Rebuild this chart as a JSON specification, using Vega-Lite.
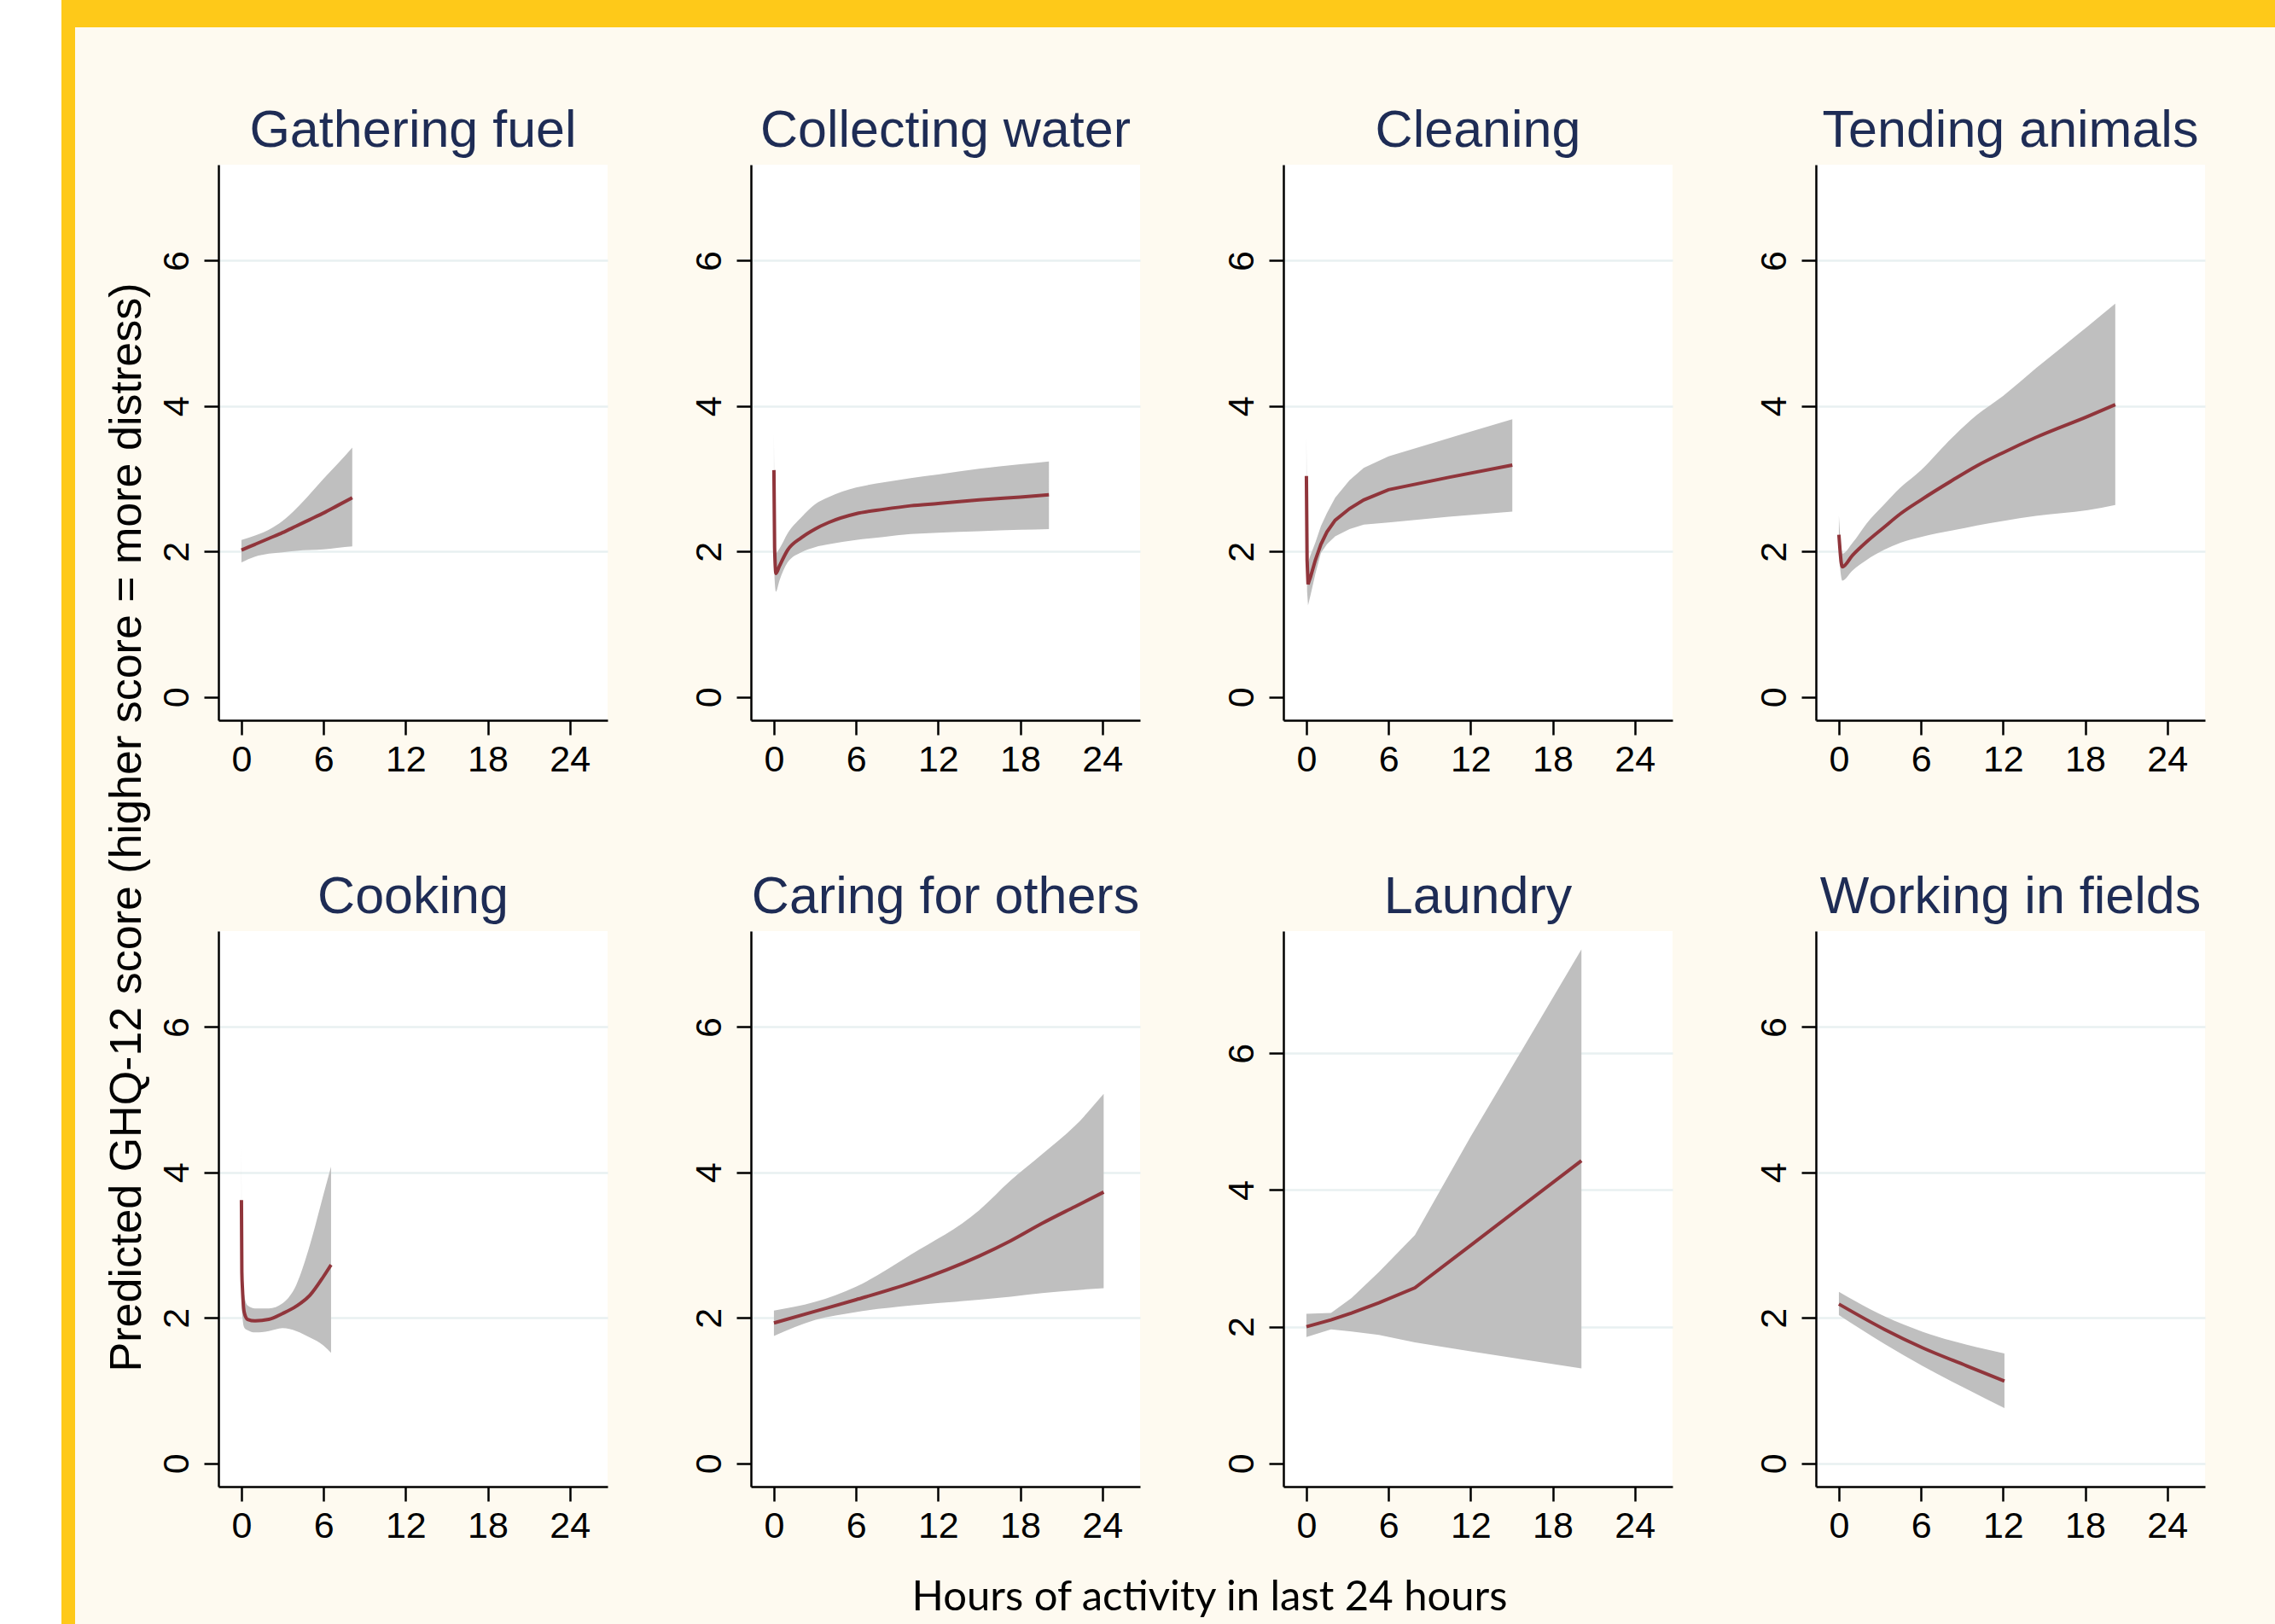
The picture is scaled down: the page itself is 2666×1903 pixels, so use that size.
{
  "$schema": "https://vega.github.io/schema/vega-lite/v6.json",
  "background": "#FEFAF0",
  "padding": 0,
  "bounds": "flush",
  "spacing": 0,
  "config": {
    "view": {"stroke": null},
    "axis": {"labelFont": "Liberation Sans", "labelFontSize": 43, "labelColor": "#000000", "tickColor": "#000000", "tickWidth": 2.5, "tickSize": 17, "domainColor": "#000000", "domainWidth": 2.5, "titleFont": "Liberation Sans", "titleFontWeight": "normal", "titleColor": "#000000", "labelOverlap": false, "labelFlush": false},
    "axisX": {"labelPadding": 8, "labelBaseline": "top", "grid": false},
    "axisY": {"labelAngle": 270, "labelAlign": "center", "labelBaseline": "alphabetic", "labelPadding": 19, "grid": true, "gridColor": "#E8F0F1", "gridWidth": 2.5},
    "title": {"font": "Liberation Sans", "fontSize": 61, "fontWeight": "normal", "color": "#1E2C55", "anchor": "middle", "frame": "group", "offset": 8, "baseline": "alphabetic"}
  },
  "datasets": {
    "curves": [
      {"panel": "Gathering fuel", "hours": 0, "fit": 2.02, "lo": 1.85, "hi": 2.16},
      {"panel": "Gathering fuel", "hours": 1, "fit": 2.10, "lo": 1.93, "hi": 2.22},
      {"panel": "Gathering fuel", "hours": 2, "fit": 2.18, "lo": 1.97, "hi": 2.30},
      {"panel": "Gathering fuel", "hours": 3, "fit": 2.26, "lo": 1.99, "hi": 2.42},
      {"panel": "Gathering fuel", "hours": 4, "fit": 2.35, "lo": 2.01, "hi": 2.59},
      {"panel": "Gathering fuel", "hours": 5, "fit": 2.44, "lo": 2.02, "hi": 2.79},
      {"panel": "Gathering fuel", "hours": 6, "fit": 2.53, "lo": 2.03, "hi": 3.00},
      {"panel": "Gathering fuel", "hours": 7, "fit": 2.63, "lo": 2.05, "hi": 3.20},
      {"panel": "Gathering fuel", "hours": 8.1, "fit": 2.74, "lo": 2.07, "hi": 3.43},

      {"panel": "Collecting water", "hours": 0, "fit": 3.12, "lo": 2.62, "hi": 3.62},
      {"panel": "Collecting water", "hours": 0.05, "fit": 2.06, "lo": 1.62, "hi": 2.45},
      {"panel": "Collecting water", "hours": 0.15, "fit": 1.70, "lo": 1.45, "hi": 1.98},
      {"panel": "Collecting water", "hours": 0.4, "fit": 1.80, "lo": 1.60, "hi": 2.04},
      {"panel": "Collecting water", "hours": 1, "fit": 2.02, "lo": 1.85, "hi": 2.25},
      {"panel": "Collecting water", "hours": 2, "fit": 2.19, "lo": 1.99, "hi": 2.47},
      {"panel": "Collecting water", "hours": 3, "fit": 2.31, "lo": 2.06, "hi": 2.65},
      {"panel": "Collecting water", "hours": 4, "fit": 2.40, "lo": 2.10, "hi": 2.75},
      {"panel": "Collecting water", "hours": 6, "fit": 2.52, "lo": 2.16, "hi": 2.88},
      {"panel": "Collecting water", "hours": 8, "fit": 2.58, "lo": 2.20, "hi": 2.95},
      {"panel": "Collecting water", "hours": 10, "fit": 2.63, "lo": 2.24, "hi": 3.01},
      {"panel": "Collecting water", "hours": 12, "fit": 2.66, "lo": 2.26, "hi": 3.06},
      {"panel": "Collecting water", "hours": 15, "fit": 2.71, "lo": 2.28, "hi": 3.14},
      {"panel": "Collecting water", "hours": 18, "fit": 2.75, "lo": 2.30, "hi": 3.20},
      {"panel": "Collecting water", "hours": 20.1, "fit": 2.78, "lo": 2.31, "hi": 3.24},

      {"panel": "Cleaning", "hours": 0, "fit": 3.04, "lo": 2.50, "hi": 3.58},
      {"panel": "Cleaning", "hours": 0.05, "fit": 1.88, "lo": 1.45, "hi": 2.25},
      {"panel": "Cleaning", "hours": 0.12, "fit": 1.55, "lo": 1.26, "hi": 1.85},
      {"panel": "Cleaning", "hours": 0.3, "fit": 1.65, "lo": 1.40, "hi": 1.95},
      {"panel": "Cleaning", "hours": 0.65, "fit": 1.88, "lo": 1.69, "hi": 2.12},
      {"panel": "Cleaning", "hours": 1.06, "fit": 2.10, "lo": 1.98, "hi": 2.35},
      {"panel": "Cleaning", "hours": 1.5, "fit": 2.27, "lo": 2.10, "hi": 2.53},
      {"panel": "Cleaning", "hours": 2.1, "fit": 2.43, "lo": 2.21, "hi": 2.74},
      {"panel": "Cleaning", "hours": 3.15, "fit": 2.59, "lo": 2.31, "hi": 2.98},
      {"panel": "Cleaning", "hours": 4.19, "fit": 2.71, "lo": 2.37, "hi": 3.15},
      {"panel": "Cleaning", "hours": 6, "fit": 2.85, "lo": 2.40, "hi": 3.31},
      {"panel": "Cleaning", "hours": 10.4, "fit": 3.02, "lo": 2.48, "hi": 3.56},
      {"panel": "Cleaning", "hours": 15.05, "fit": 3.19, "lo": 2.55, "hi": 3.82},

      {"panel": "Tending animals", "hours": 0, "fit": 2.23, "lo": 1.95, "hi": 2.49},
      {"panel": "Tending animals", "hours": 0.25, "fit": 1.79, "lo": 1.60, "hi": 1.97},
      {"panel": "Tending animals", "hours": 1, "fit": 1.95, "lo": 1.74, "hi": 2.12},
      {"panel": "Tending animals", "hours": 2, "fit": 2.13, "lo": 1.88, "hi": 2.38},
      {"panel": "Tending animals", "hours": 3.27, "fit": 2.33, "lo": 2.02, "hi": 2.64},
      {"panel": "Tending animals", "hours": 4.5, "fit": 2.52, "lo": 2.12, "hi": 2.88},
      {"panel": "Tending animals", "hours": 6, "fit": 2.71, "lo": 2.20, "hi": 3.12},
      {"panel": "Tending animals", "hours": 8.3, "fit": 2.98, "lo": 2.29, "hi": 3.57},
      {"panel": "Tending animals", "hours": 10.1, "fit": 3.18, "lo": 2.36, "hi": 3.88},
      {"panel": "Tending animals", "hours": 12, "fit": 3.36, "lo": 2.42, "hi": 4.14},
      {"panel": "Tending animals", "hours": 14.4, "fit": 3.57, "lo": 2.49, "hi": 4.52},
      {"panel": "Tending animals", "hours": 18.2, "fit": 3.86, "lo": 2.57, "hi": 5.10},
      {"panel": "Tending animals", "hours": 20.2, "fit": 4.02, "lo": 2.64, "hi": 5.41},

      {"panel": "Cooking", "hours": 0, "fit": 3.62, "lo": 2.85, "hi": 4.39},
      {"panel": "Cooking", "hours": 0.03, "fit": 2.63, "lo": 2.15, "hi": 3.25},
      {"panel": "Cooking", "hours": 0.08, "fit": 2.38, "lo": 2.00, "hi": 2.85},
      {"panel": "Cooking", "hours": 0.2, "fit": 2.08, "lo": 1.87, "hi": 2.32},
      {"panel": "Cooking", "hours": 0.45, "fit": 1.98, "lo": 1.83, "hi": 2.17},
      {"panel": "Cooking", "hours": 1, "fit": 1.96, "lo": 1.80, "hi": 2.13},
      {"panel": "Cooking", "hours": 2, "fit": 1.98, "lo": 1.82, "hi": 2.13},
      {"panel": "Cooking", "hours": 3, "fit": 2.06, "lo": 1.86, "hi": 2.20},
      {"panel": "Cooking", "hours": 4, "fit": 2.16, "lo": 1.82, "hi": 2.45},
      {"panel": "Cooking", "hours": 5, "fit": 2.31, "lo": 1.73, "hi": 3.00},
      {"panel": "Cooking", "hours": 6, "fit": 2.57, "lo": 1.62, "hi": 3.70},
      {"panel": "Cooking", "hours": 6.55, "fit": 2.73, "lo": 1.52, "hi": 4.08},

      {"panel": "Caring for others", "hours": 0, "fit": 1.93, "lo": 1.75, "hi": 2.10},
      {"panel": "Caring for others", "hours": 3, "fit": 2.09, "lo": 1.97, "hi": 2.22},
      {"panel": "Caring for others", "hours": 6, "fit": 2.25, "lo": 2.08, "hi": 2.43},
      {"panel": "Caring for others", "hours": 10, "fit": 2.48, "lo": 2.17, "hi": 2.87},
      {"panel": "Caring for others", "hours": 15, "fit": 2.85, "lo": 2.25, "hi": 3.48},
      {"panel": "Caring for others", "hours": 17.3, "fit": 3.06, "lo": 2.29, "hi": 3.89},
      {"panel": "Caring for others", "hours": 19.6, "fit": 3.30, "lo": 2.34, "hi": 4.25},
      {"panel": "Caring for others", "hours": 22, "fit": 3.53, "lo": 2.38, "hi": 4.64},
      {"panel": "Caring for others", "hours": 24.1, "fit": 3.73, "lo": 2.41, "hi": 5.08},

      {"panel": "Laundry", "hours": 0, "fit": 2.00, "lo": 1.85, "hi": 2.19},
      {"panel": "Laundry", "hours": 1.8, "fit": 2.10, "lo": 1.96, "hi": 2.20},
      {"panel": "Laundry", "hours": 3.3, "fit": 2.20, "lo": 1.93, "hi": 2.42},
      {"panel": "Laundry", "hours": 5.3, "fit": 2.35, "lo": 1.88, "hi": 2.80},
      {"panel": "Laundry", "hours": 7.93, "fit": 2.57, "lo": 1.77, "hi": 3.34},
      {"panel": "Laundry", "hours": 12, "fit": 3.19, "lo": 1.64, "hi": 4.78},
      {"panel": "Laundry", "hours": 20.1, "fit": 4.43, "lo": 1.39, "hi": 7.52},

      {"panel": "Working in fields", "hours": 0, "fit": 2.19, "lo": 2.04, "hi": 2.36},
      {"panel": "Working in fields", "hours": 3.35, "fit": 1.84, "lo": 1.64, "hi": 2.02},
      {"panel": "Working in fields", "hours": 6.1, "fit": 1.59, "lo": 1.34, "hi": 1.81},
      {"panel": "Working in fields", "hours": 9.35, "fit": 1.34, "lo": 1.02, "hi": 1.63},
      {"panel": "Working in fields", "hours": 12.1, "fit": 1.13, "lo": 0.76, "hi": 1.51}
    ]
  },
  "hconcat": [
    {"width": 72, "height": 1903, "data": {"values": []}, "mark": "rect", "view": {"fill": "#FFFFFF", "stroke": null}},
    {
      "bounds": "flush",
      "spacing": 0,
      "vconcat": [
        {"width": 2594, "height": 32, "data": {"values": []}, "mark": "rect", "view": {"fill": "#FEC919", "stroke": null}},
        {
          "bounds": "flush",
          "spacing": 168,
          "hconcat": [
            {"width": 16, "height": 1871, "data": {"values": []}, "mark": "rect", "view": {"fill": "#FEC919", "stroke": null}},
            {
              "bounds": "flush",
              "spacing": 160,
              "vconcat": [
                {"width": 1, "height": 1, "data": {"values": []}, "mark": "rect"},
                {
                  "bounds": "flush",
                  "columns": 4,
                  "spacing": {"row": 247, "column": 168},
                  "concat": [
                    {
                      "width": 456, "height": 651, "title": "Gathering fuel",
                      "view": {"fill": "#FFFFFF", "stroke": null},
                      "data": {"name": "curves"},
                      "transform": [{"filter": "datum.panel === 'Gathering fuel'"}],
                      "encoding": {"x": {"field": "hours", "type": "quantitative", "scale": {"domain": [-1.68, 26.76], "nice": false, "zero": false}, "axis": {"values": [0, 6, 12, 18, 24], "title": null}}},
                      "layer": [
                        {"mark": {"type": "area", "color": "#BFBFBF", "interpolate": "monotone"},
                         "encoding": {"y": {"field": "lo", "type": "quantitative", "scale": {"domain": [-0.32, 7.32], "nice": false, "zero": false}, "axis": {"values": [0, 2, 4, 6], "title": "Predicted GHQ-12 score (higher score = more distress)", "titleX": -92, "titleY": 776, "titleAngle": 270, "titleAlign": "center", "titleBaseline": "alphabetic", "titleFontSize": 52, "gridOpacity": {"condition": {"test": "datum.value === 0", "value": 0}, "value": 1}}}, "y2": {"field": "hi"}}},
                        {"mark": {"type": "line", "color": "#90353B", "strokeWidth": 4, "interpolate": "monotone"},
                         "encoding": {"y": {"field": "fit", "type": "quantitative", "scale": {"domain": [-0.32, 7.32], "nice": false, "zero": false}, "axis": {"values": [0, 2, 4, 6], "title": "Predicted GHQ-12 score (higher score = more distress)", "titleX": -92, "titleY": 776, "titleAngle": 270, "titleAlign": "center", "titleBaseline": "alphabetic", "titleFontSize": 52, "gridOpacity": {"condition": {"test": "datum.value === 0", "value": 0}, "value": 1}}}}}
                      ]
                    },
                    {
                      "width": 456, "height": 651, "title": "Collecting water",
                      "view": {"fill": "#FFFFFF", "stroke": null},
                      "data": {"name": "curves"},
                      "transform": [{"filter": "datum.panel === 'Collecting water'"}],
                      "encoding": {"x": {"field": "hours", "type": "quantitative", "scale": {"domain": [-1.68, 26.76], "nice": false, "zero": false}, "axis": {"values": [0, 6, 12, 18, 24], "title": null}}},
                      "layer": [
                        {"mark": {"type": "area", "color": "#BFBFBF", "interpolate": "monotone"},
                         "encoding": {"y": {"field": "lo", "type": "quantitative", "scale": {"domain": [-0.32, 7.32], "nice": false, "zero": false}, "axis": {"values": [0, 2, 4, 6], "title": null, "gridOpacity": {"condition": {"test": "datum.value === 0", "value": 0}, "value": 1}}}, "y2": {"field": "hi"}}},
                        {"mark": {"type": "line", "color": "#90353B", "strokeWidth": 4, "interpolate": "monotone"},
                         "encoding": {"y": {"field": "fit", "type": "quantitative", "scale": {"domain": [-0.32, 7.32], "nice": false, "zero": false}, "axis": {"values": [0, 2, 4, 6], "title": null, "gridOpacity": {"condition": {"test": "datum.value === 0", "value": 0}, "value": 1}}}}}
                      ]
                    },
                    {
                      "width": 456, "height": 651, "title": "Cleaning",
                      "view": {"fill": "#FFFFFF", "stroke": null},
                      "data": {"name": "curves"},
                      "transform": [{"filter": "datum.panel === 'Cleaning'"}],
                      "encoding": {"x": {"field": "hours", "type": "quantitative", "scale": {"domain": [-1.68, 26.76], "nice": false, "zero": false}, "axis": {"values": [0, 6, 12, 18, 24], "title": null}}},
                      "layer": [
                        {"mark": {"type": "area", "color": "#BFBFBF", "interpolate": "linear"},
                         "encoding": {"y": {"field": "lo", "type": "quantitative", "scale": {"domain": [-0.32, 7.32], "nice": false, "zero": false}, "axis": {"values": [0, 2, 4, 6], "title": null, "gridOpacity": {"condition": {"test": "datum.value === 0", "value": 0}, "value": 1}}}, "y2": {"field": "hi"}}},
                        {"mark": {"type": "line", "color": "#90353B", "strokeWidth": 4, "interpolate": "linear"},
                         "encoding": {"y": {"field": "fit", "type": "quantitative", "scale": {"domain": [-0.32, 7.32], "nice": false, "zero": false}, "axis": {"values": [0, 2, 4, 6], "title": null, "gridOpacity": {"condition": {"test": "datum.value === 0", "value": 0}, "value": 1}}}}}
                      ]
                    },
                    {
                      "width": 456, "height": 651, "title": "Tending animals",
                      "view": {"fill": "#FFFFFF", "stroke": null},
                      "data": {"name": "curves"},
                      "transform": [{"filter": "datum.panel === 'Tending animals'"}],
                      "encoding": {"x": {"field": "hours", "type": "quantitative", "scale": {"domain": [-1.68, 26.76], "nice": false, "zero": false}, "axis": {"values": [0, 6, 12, 18, 24], "title": null}}},
                      "layer": [
                        {"mark": {"type": "area", "color": "#BFBFBF", "interpolate": "monotone"},
                         "encoding": {"y": {"field": "lo", "type": "quantitative", "scale": {"domain": [-0.32, 7.32], "nice": false, "zero": false}, "axis": {"values": [0, 2, 4, 6], "title": null, "gridOpacity": {"condition": {"test": "datum.value === 0", "value": 0}, "value": 1}}}, "y2": {"field": "hi"}}},
                        {"mark": {"type": "line", "color": "#90353B", "strokeWidth": 4, "interpolate": "monotone"},
                         "encoding": {"y": {"field": "fit", "type": "quantitative", "scale": {"domain": [-0.32, 7.32], "nice": false, "zero": false}, "axis": {"values": [0, 2, 4, 6], "title": null, "gridOpacity": {"condition": {"test": "datum.value === 0", "value": 0}, "value": 1}}}}}
                      ]
                    },
                    {
                      "width": 456, "height": 651, "title": "Cooking",
                      "view": {"fill": "#FFFFFF", "stroke": null},
                      "data": {"name": "curves"},
                      "transform": [{"filter": "datum.panel === 'Cooking'"}],
                      "encoding": {"x": {"field": "hours", "type": "quantitative", "scale": {"domain": [-1.68, 26.76], "nice": false, "zero": false}, "axis": {"values": [0, 6, 12, 18, 24], "title": "Hours of activity in last 24 hours", "titleX": 1161, "titleY": 144, "titleAngle": 0, "titleAlign": "center", "titleBaseline": "alphabetic", "titleFont": "Lato", "titleFontSize": 49}}},
                      "layer": [
                        {"mark": {"type": "area", "color": "#BFBFBF", "interpolate": "monotone"},
                         "encoding": {"y": {"field": "lo", "type": "quantitative", "scale": {"domain": [-0.32, 7.32], "nice": false, "zero": false}, "axis": {"values": [0, 2, 4, 6], "title": null, "gridOpacity": {"condition": {"test": "datum.value === 0", "value": 0}, "value": 1}}}, "y2": {"field": "hi"}}},
                        {"mark": {"type": "line", "color": "#90353B", "strokeWidth": 4, "interpolate": "monotone"},
                         "encoding": {"y": {"field": "fit", "type": "quantitative", "scale": {"domain": [-0.32, 7.32], "nice": false, "zero": false}, "axis": {"values": [0, 2, 4, 6], "title": null, "gridOpacity": {"condition": {"test": "datum.value === 0", "value": 0}, "value": 1}}}}}
                      ]
                    },
                    {
                      "width": 456, "height": 651, "title": "Caring for others",
                      "view": {"fill": "#FFFFFF", "stroke": null},
                      "data": {"name": "curves"},
                      "transform": [{"filter": "datum.panel === 'Caring for others'"}],
                      "encoding": {"x": {"field": "hours", "type": "quantitative", "scale": {"domain": [-1.68, 26.76], "nice": false, "zero": false}, "axis": {"values": [0, 6, 12, 18, 24], "title": null}}},
                      "layer": [
                        {"mark": {"type": "area", "color": "#BFBFBF", "interpolate": "monotone"},
                         "encoding": {"y": {"field": "lo", "type": "quantitative", "scale": {"domain": [-0.32, 7.32], "nice": false, "zero": false}, "axis": {"values": [0, 2, 4, 6], "title": null, "gridOpacity": {"condition": {"test": "datum.value === 0", "value": 0}, "value": 1}}}, "y2": {"field": "hi"}}},
                        {"mark": {"type": "line", "color": "#90353B", "strokeWidth": 4, "interpolate": "monotone"},
                         "encoding": {"y": {"field": "fit", "type": "quantitative", "scale": {"domain": [-0.32, 7.32], "nice": false, "zero": false}, "axis": {"values": [0, 2, 4, 6], "title": null, "gridOpacity": {"condition": {"test": "datum.value === 0", "value": 0}, "value": 1}}}}}
                      ]
                    },
                    {
                      "width": 456, "height": 651, "title": "Laundry",
                      "view": {"fill": "#FFFFFF", "stroke": null},
                      "data": {"name": "curves"},
                      "transform": [{"filter": "datum.panel === 'Laundry'"}],
                      "encoding": {"x": {"field": "hours", "type": "quantitative", "scale": {"domain": [-1.68, 26.76], "nice": false, "zero": false}, "axis": {"values": [0, 6, 12, 18, 24], "title": null}}},
                      "layer": [
                        {"mark": {"type": "area", "color": "#BFBFBF", "interpolate": "linear"},
                         "encoding": {"y": {"field": "lo", "type": "quantitative", "scale": {"domain": [-0.34, 7.79], "nice": false, "zero": false}, "axis": {"values": [0, 2, 4, 6], "title": null, "gridOpacity": {"condition": {"test": "datum.value === 0", "value": 0}, "value": 1}}}, "y2": {"field": "hi"}}},
                        {"mark": {"type": "line", "color": "#90353B", "strokeWidth": 4, "interpolate": "linear"},
                         "encoding": {"y": {"field": "fit", "type": "quantitative", "scale": {"domain": [-0.34, 7.79], "nice": false, "zero": false}, "axis": {"values": [0, 2, 4, 6], "title": null, "gridOpacity": {"condition": {"test": "datum.value === 0", "value": 0}, "value": 1}}}}}
                      ]
                    },
                    {
                      "width": 456, "height": 651, "title": "Working in fields",
                      "view": {"fill": "#FFFFFF", "stroke": null},
                      "data": {"name": "curves"},
                      "transform": [{"filter": "datum.panel === 'Working in fields'"}],
                      "encoding": {"x": {"field": "hours", "type": "quantitative", "scale": {"domain": [-1.68, 26.76], "nice": false, "zero": false}, "axis": {"values": [0, 6, 12, 18, 24], "title": null}}},
                      "layer": [
                        {"mark": {"type": "area", "color": "#BFBFBF", "interpolate": "monotone"},
                         "encoding": {"y": {"field": "lo", "type": "quantitative", "scale": {"domain": [-0.32, 7.32], "nice": false, "zero": false}, "axis": {"values": [0, 2, 4, 6], "title": null}}, "y2": {"field": "hi"}}},
                        {"mark": {"type": "line", "color": "#90353B", "strokeWidth": 4, "interpolate": "monotone"},
                         "encoding": {"y": {"field": "fit", "type": "quantitative", "scale": {"domain": [-0.32, 7.32], "nice": false, "zero": false}, "axis": {"values": [0, 2, 4, 6], "title": null}}}}
                      ]
                    }
                  ]
                }
              ]
            }
          ]
        }
      ]
    }
  ]
}
